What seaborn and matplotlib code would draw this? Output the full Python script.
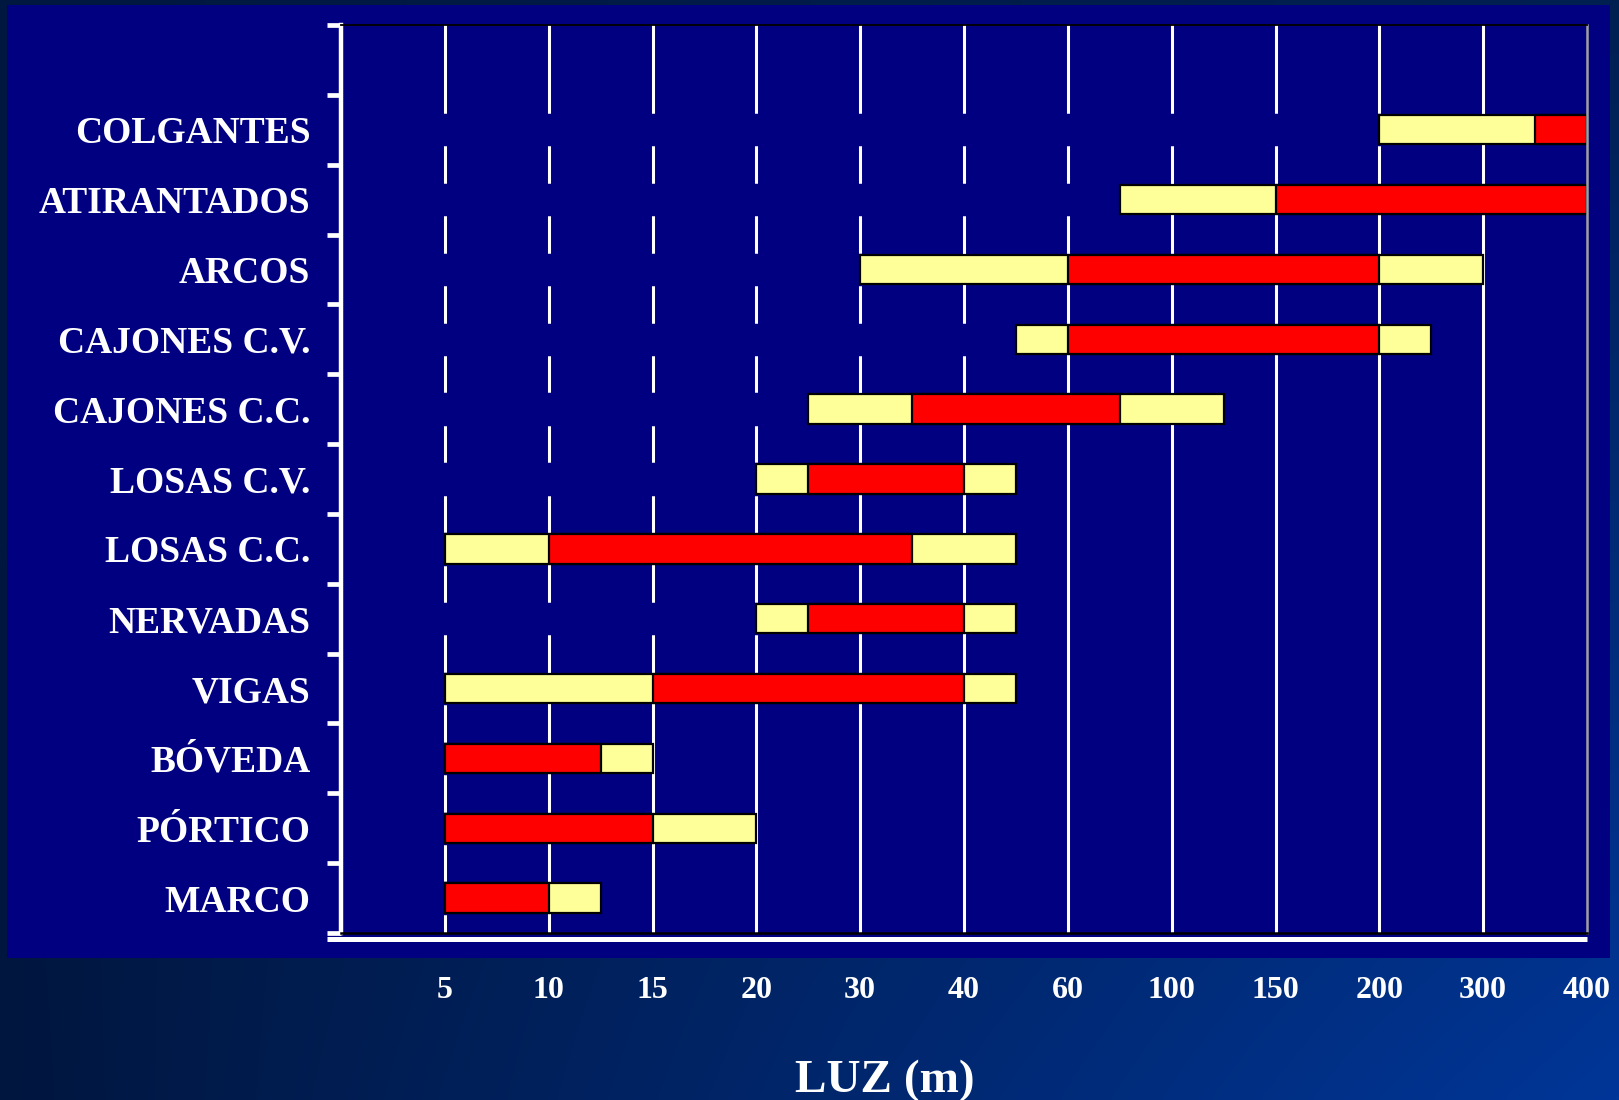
import numpy as np
import pandas as pd
import matplotlib
matplotlib.use("Agg")
import matplotlib.pyplot as plt
from matplotlib.patches import Rectangle
from matplotlib.ticker import NullLocator
import seaborn as sns

# ---------------- data ----------------
categories = ["COLGANTES", "ATIRANTADOS", "ARCOS", "CAJONES C.V.", "CAJONES C.C.",
              "LOSAS C.V.", "LOSAS C.C.", "NERVADAS", "VIGAS", "BÓVEDA",
              "PÓRTICO", "MARCO"]
range_min = [200, 80, 30, 50, 25, 20, 5, 20, 5, 5, 5, 5]          # start of yellow range
usual_min = [350, 150, 60, 60, 35, 25, 10, 25, 15, 5, 5, 5]       # start of red range
usual_max = [400, 400, 200, 200, 80, 40, 35, 40, 40, 12.5, 15, 10]  # end of red range
range_max = [400, 400, 300, 250, 125, 50, 50, 50, 50, 15, 20, 12.5]  # end of yellow range
tick_values = [5, 10, 15, 20, 30, 40, 60, 100, 150, 200, 300, 400]
tick_labels = [str(v) for v in tick_values]
x_label = "LUZ (m)"

NAVY = "#000080"
YELLOW = "#FFFF99"
RED = "#FF0000"

sns.set_theme(style="white")
plt.rcParams["font.family"] = ["Liberation Serif", "DejaVu Serif"]
plt.rcParams["font.weight"] = "bold"

W, H = 1619, 1100
fig = plt.figure(figsize=(W / 100, H / 100), dpi=100)

# ---------------- background ----------------
bg = fig.add_axes([0, 0, 1, 1], zorder=-10)
nx, ny = 200, 140
u = np.linspace(0, 1, nx)[None, :, None]
v = np.linspace(0, 1, ny)[:, None, None]
tl = np.array([0x00, 0x18, 0x3f]) / 255
tr = np.array([0x00, 0x20, 0x52]) / 255
bl = np.array([0x00, 0x16, 0x3f]) / 255
br = np.array([0x00, 0x36, 0x98]) / 255
img = (1 - u) * (1 - v) * tl + u * (1 - v) * tr + (1 - u) * v * bl + u * v * br
bg.imshow(img, extent=[0, 1, 0, 1], aspect="auto", origin="upper", interpolation="bilinear")
bg.add_patch(Rectangle((7 / W, 1 - 958 / H), (1610 - 7) / W, (958 - 5) / H,
                       facecolor=NAVY, edgecolor="none", transform=bg.transAxes))
bg.set_xlim(0, 1)
bg.set_ylim(0, 1)
bg.axis("off")

# ---------------- main axes ----------------
ax = fig.add_axes([341 / W, 1 - 933 / H, (1587 - 341) / W, (933 - 25) / H])
ax.set_facecolor(NAVY)

df = pd.DataFrame({
    "category": categories,
    "range_min": range_min,
    "usual_min": usual_min,
    "usual_max": usual_max,
    "range_max": range_max,
})
df["full"] = df["range_max"] - df["range_min"]
df["core"] = df["usual_max"] - df["usual_min"]

common = dict(data=df, y="category", order=categories, orient="y",
              width=0.42, errorbar=None, ax=ax)

# invisible offset bars (hide the grid lines left of each bar)
sns.barplot(x="range_min", left=0, color=NAVY, edgecolor=NAVY, linewidth=2.5,
            saturation=1, **common)
# yellow full range
sns.barplot(x="full", left=df["range_min"].values, color=YELLOW, edgecolor="black",
            linewidth=1.6, saturation=1, **common)
# red usual range
sns.barplot(x="core", left=df["usual_min"].values, color=RED, edgecolor="black",
            linewidth=1.6, saturation=1, **common)

# non-uniform category-like x scale
idx_vals = [0] + tick_values
idx_pos = list(range(len(idx_vals)))


def fwd(x):
    return np.interp(x, idx_vals, idx_pos)


def inv(p):
    return np.interp(p, idx_pos, idx_vals)


ax.set_xscale("function", functions=(fwd, inv))
ax.set_xlim(0, 400)
ax.set_xticks(tick_values, tick_labels)
ax.xaxis.set_minor_locator(NullLocator())
ax.set_ylim(len(categories) - 0.5, -1.5)
ax.set_yticks(np.arange(-1.5, len(categories), 1.0), minor=True)

ax.grid(axis="x", color="white", linewidth=2.2)
ax.grid(axis="y", visible=False)
ax.set_axisbelow(True)
gl = ax.get_xgridlines()
gl[-1].set_visible(False)

ax.set_xlabel("")
ax.set_ylabel("")
ax.tick_params(axis="x", length=0, pad=31, labelsize=23, labelcolor="white")
ax.tick_params(axis="y", which="major", left=False, length=0, pad=22,
               labelsize=27, labelcolor="white")
ax.tick_params(axis="y", which="minor", left=True, length=10, width=3.4,
               color="white", direction="out")
for lab in ax.get_xticklabels() + ax.get_yticklabels():
    lab.set_fontweight("bold")

for side, col, lw in [("left", "white", 3.2), ("top", "black", 1.3),
                      ("right", "#a0a0a0", 1.8), ("bottom", "black", 1.8)]:
    ax.spines[side].set_visible(True)
    ax.spines[side].set_color(col)
    ax.spines[side].set_linewidth(lw)

# white category-axis line slightly below the plot frame
ax.plot([-0.011, 1.0], [len(categories) - 0.5 + 0.087] * 2,
        transform=ax.get_yaxis_transform(), clip_on=False,
        color="white", linewidth=3.6, solid_capstyle="butt")

fig.text(885 / W, 8 / H, x_label, ha="center", va="baseline",
         fontsize=34, color="white", fontweight="bold")

fig.savefig("out.png", dpi=100)
